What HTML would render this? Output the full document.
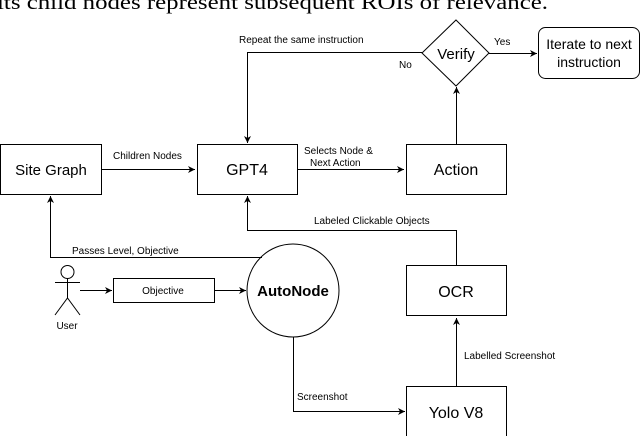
<!DOCTYPE html>
<html><head><style>
html,body{margin:0;padding:0;background:#fff;width:640px;height:436px;overflow:hidden}
svg text{font-family:"Liberation Sans",sans-serif;fill:#000}
</style></head><body>
<svg width="640" height="436" viewBox="0 0 640 436" xmlns="http://www.w3.org/2000/svg">
<defs><marker id="a" markerWidth="8" markerHeight="8" refX="7" refY="4" orient="auto" markerUnits="userSpaceOnUse"><path d="M0,0.5 L7,4 L0,7.5 L2,4 Z" fill="#000"/></marker></defs>
<text x="-3" y="9" style="font-family:'Liberation Serif',serif;font-size:21px" textLength="551" lengthAdjust="spacingAndGlyphs">its child nodes represent subsequent ROIs of relevance.</text>
<g fill="none" stroke="#000" stroke-width="1">
<rect x="0.5" y="144.5" width="101" height="50"/>
<rect x="197.5" y="144.5" width="100" height="50"/>
<rect x="406.5" y="144.5" width="100" height="50"/>
<rect x="538.5" y="27.5" width="101" height="51" rx="7"/>
<polygon points="456,20 489,53 456,86 422,53"/>
<rect x="113.5" y="278.5" width="101" height="24"/>
<ellipse cx="293" cy="290.5" rx="46" ry="46.5"/>
<rect x="406.5" y="265.5" width="100" height="50"/>
<rect x="406.5" y="386.5" width="100" height="60"/>
<line x1="489" y1="53.5" x2="537" y2="53.5" marker-end="url(#a)"/>
<polyline points="422,52.5 247.5,52.5 247.5,143" marker-end="url(#a)"/>
<line x1="456.5" y1="144" x2="456.5" y2="87" marker-end="url(#a)"/>
<line x1="101" y1="169.5" x2="195" y2="169.5" marker-end="url(#a)"/>
<line x1="297" y1="169.5" x2="404" y2="169.5" marker-end="url(#a)"/>
<polyline points="262,257.5 50.5,257.5 50.5,196" marker-end="url(#a)"/>
<polyline points="456.5,265 456.5,230.5 247.5,230.5 247.5,196" marker-end="url(#a)"/>
<line x1="80" y1="290.5" x2="112" y2="290.5" marker-end="url(#a)"/>
<line x1="214" y1="290.5" x2="246" y2="290.5" marker-end="url(#a)"/>
<polyline points="293.5,337 293.5,411.5 405,411.5" marker-end="url(#a)"/>
<line x1="456.5" y1="386" x2="456.5" y2="318" marker-end="url(#a)"/>
<circle cx="67.5" cy="272" r="6.5"/>
<line x1="67.5" y1="278.5" x2="67.5" y2="298"/>
<line x1="55" y1="282.5" x2="80" y2="282.5"/>
<polyline points="55,315 67.5,298 80,315"/>
</g>
<g font-size="15" text-anchor="middle">
<text x="51" y="175">Site Graph</text>
<text x="247" y="175" font-size="16">GPT4</text>
<text x="456" y="175" font-size="16">Action</text>
<text x="456" y="59">Verify</text>
<text x="589" y="49" font-size="14">Iterate to next</text>
<text x="589" y="67" font-size="14">instruction</text>
<text x="456" y="297" font-size="16">OCR</text>
<text x="456" y="418" font-size="16">Yolo V8</text>
<text x="293" y="296" font-weight="bold">AutoNode</text>
</g>
<g font-size="10">
<text x="239" y="43">Repeat the same instruction</text>
<text x="399" y="68">No</text>
<text x="494" y="45">Yes</text>
<text x="113" y="159">Children Nodes</text>
<text x="304" y="154">Selects Node &amp;</text>
<text x="310" y="166">Next Action</text>
<text x="314" y="224">Labeled Clickable Objects</text>
<text x="72" y="254">Passes Level, Objective</text>
<text x="163" y="294" text-anchor="middle">Objective</text>
<text x="67" y="329" text-anchor="middle">User</text>
<text x="464" y="359">Labelled Screenshot</text>
<text x="297" y="400">Screenshot</text>
</g>
</svg>
</body></html>
